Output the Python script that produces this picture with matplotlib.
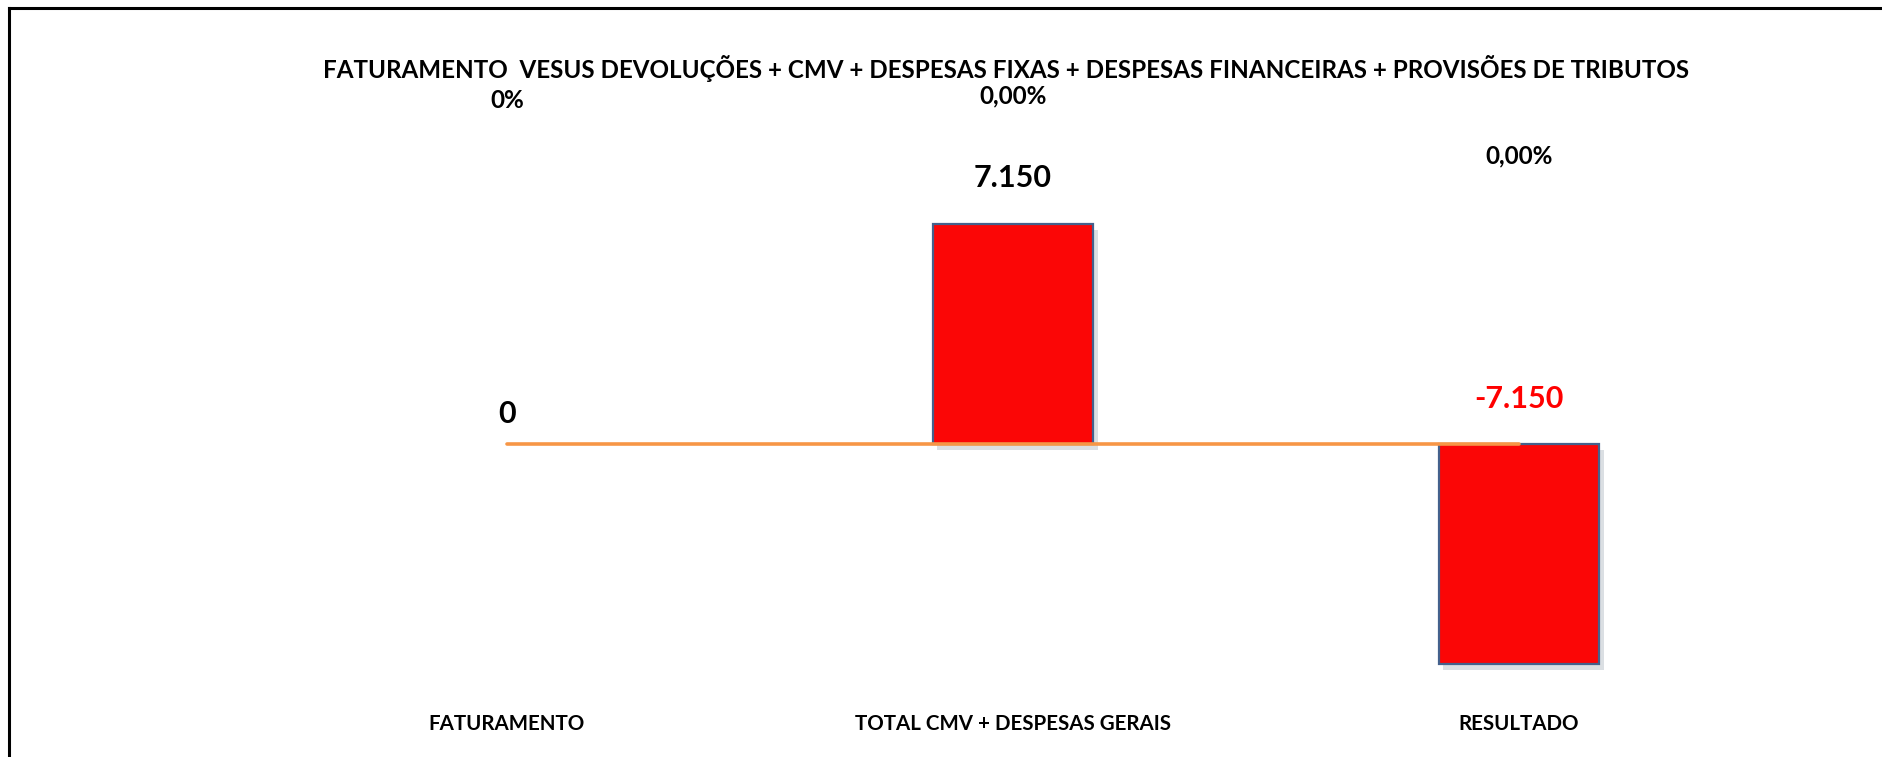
import matplotlib
matplotlib.use("Agg")
import matplotlib.pyplot as plt
import matplotlib.patheffects as pe
from matplotlib.lines import Line2D
from matplotlib.transforms import blended_transform_factory

# ---- data ----
categories = ["FATURAMENTO", "TOTAL CMV + DESPESAS GERAIS", "RESULTADO"]
bar_values = [0, 7150, -7150]
line_values = [0, 0, 0]
value_labels = ["0", "7.150", "-7.150"]
pct_labels = ["0%", "0,00%", "0,00%"]
title = ("FATURAMENTO  VESUS DEVOLUÇÕES + CMV + DESPESAS FIXAS + "
         "DESPESAS FINANCEIRAS + PROVISÕES DE TRIBUTOS")

plt.rcParams['font.family'] = ['Lato', 'DejaVu Sans']

W, H = 1883, 757
fig = plt.figure(figsize=(W / 100, H / 100), dpi=100)
ax = fig.add_axes([0, 0, 1, 1])
ax.set_axis_off()

# scale: categories 506 px apart, first at 507 px; zero at y=444 px, 220 px per 7150
px_per_unit_x = 506.0
x0 = -507.0 / px_per_unit_x
ax.set_xlim(x0, x0 + W / px_per_unit_x)
vpp = 7150.0 / 220.0
ax.set_ylim(-(H - 444) * vpp, 444 * vpp)

xs = list(range(len(categories)))
bars = ax.bar(xs, bar_values, width=0.318, color="#FB0606",
              edgecolor="#44618C", linewidth=1.6, zorder=2)
for b, v in zip(bars, bar_values):
    if v == 0:
        b.set_visible(False)
        continue
    b.set_path_effects([pe.SimplePatchShadow(offset=(3, -4), shadow_rgbFace="#8a96a3", alpha=0.3),
                        pe.Normal()])

ax.plot(xs, line_values, color="#F79646", linewidth=2.6,
        solid_capstyle="round", zorder=3)

# value labels
label_offsets = [30, 46, 45]
label_colors = ["black", "black", "#FF0000"]
for x, v, lab, off, c in zip(xs, bar_values, value_labels, label_offsets, label_colors):
    base = max(v, 0)
    ax.annotate(lab, (x, base), xytext=(0, off * 0.72), textcoords="offset points",
                ha="center", va="center", fontsize=22, fontweight="bold", color=c)

trans = blended_transform_factory(ax.transData, fig.transFigure)
# percentage labels
pct_y = [1 - 101 / H, 1 - 96 / H, 1 - 156 / H]
for x, lab, y in zip(xs, pct_labels, pct_y):
    ax.text(x, y, lab, transform=trans, ha="center", va="center",
            fontsize=17.5, fontweight="bold", color="black")

# category labels
for x, lab in zip(xs, categories):
    ax.text(x, 1 - 724 / H, lab, transform=trans, ha="center", va="center",
            fontsize=14.8, fontweight="bold", color="black")

# title
fig.text(1006 / W, 1 - 68 / H, title, ha="center", va="center",
         fontsize=17.4, fontweight="bold", color="black")

# frame (top and left edges visible)
fig.add_artist(Line2D([9 / W, 1], [1 - 8 / H, 1 - 8 / H], color="black", linewidth=2.2))
fig.add_artist(Line2D([9 / W, 9 / W], [0, 1 - 8 / H], color="black", linewidth=2.2))

fig.savefig("out.png", dpi=100, facecolor="white")
